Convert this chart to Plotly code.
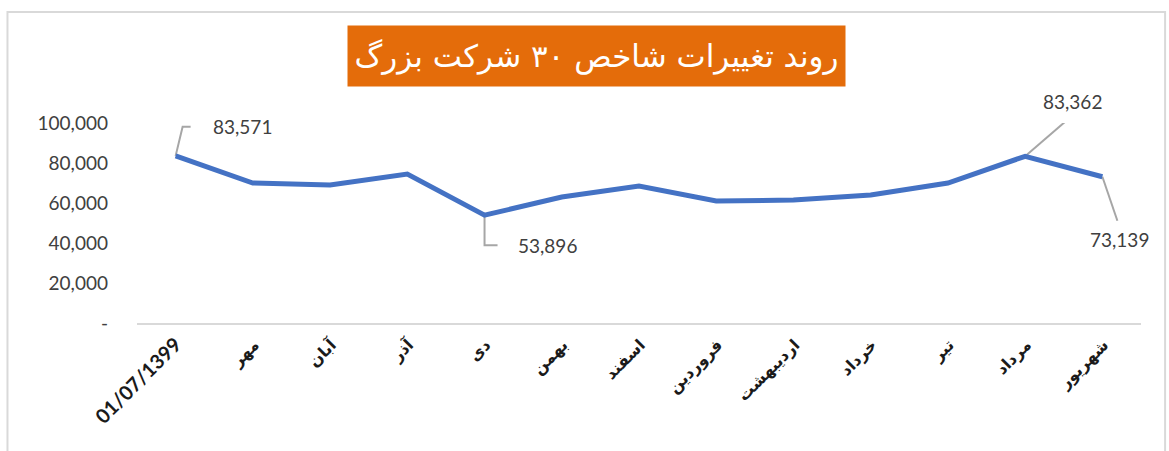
import plotly.graph_objects as go

categories = ["01/07/1399", "مهر", "آبان", "آذر", "دی", "بهمن", "اسفند",
              "فروردین", "اردیبهشت", "خرداد", "تیر", "مرداد", "شهریور"]
values = [83571, 70000, 69000, 74500, 53896, 63000, 68500,
          61000, 61500, 64000, 70000, 83362, 73139]
ytick_vals = [0, 20000, 40000, 60000, 80000, 100000]
ytick_text = ["-", "20,000", "40,000", "60,000", "80,000", "100,000"]
title_text = "روند تغییرات شاخص ۳۰ شرکت بزرگ"

# labelled points: index -> (xshift, yshift, leader path)
labelled = {
    0: (67, 29, "M 0 0 L 7 29 L 15 29"),
    4: (63, -30, "M 0 0 L 0 -30 L 13 -30"),
    11: (47, 55, "M 0 0 L 44 38"),
    12: (17, -63, "M 0 0 L 15 -44"),
}

def tick_label(c):
    if c[0].isdigit():
        return f"<b>{c}</b>"
    return f"<span style='font-family:DejaVu Sans;font-size:16px'><b>{c}</b></span>"

x_ticktext = [tick_label(c) for c in categories]

fig = go.Figure()
fig.add_trace(go.Scatter(
    x=categories, y=values, mode="lines",
    line=dict(color="#4472C4", width=5),
    cliponaxis=False, hoverinfo="skip"))

annotations = []
shapes = []
for i, (dx, dy, path) in labelled.items():
    annotations.append(dict(
        x=categories[i], y=values[i], xref="x", yref="y",
        text=f"{values[i]:,}", showarrow=False, xshift=dx, yshift=dy,
        font=dict(family="Lato, Open Sans, sans-serif", size=19, color="#404040")))
    shapes.append(dict(
        type="path", xref="x", yref="y", xsizemode="pixel", ysizemode="pixel",
        xanchor=categories[i], yanchor=values[i], path=path,
        line=dict(color="#A6A6A6", width=2), layer="below"))

annotations.append(dict(
    x=0.458, y=1.335, xref="paper", yref="paper", text=title_text,
    xanchor="center", yanchor="middle",
    showarrow=False, bgcolor="#E46C0A", width=495, height=58,
    font=dict(family="DejaVu Sans", size=31, color="white")))

# chart border
shapes.append(dict(type="rect", xref="paper", yref="paper",
                   x0=-0.129, x1=1.024, y0=-0.66, y1=1.555,
                   line=dict(color="#D9D9D9", width=2), layer="below"))

fig.update_layout(
    width=1169, height=451,
    margin=dict(l=137, r=28, t=123, b=128, autoexpand=False),
    paper_bgcolor="white", plot_bgcolor="white",
    showlegend=False,
    annotations=annotations, shapes=shapes,
    xaxis=dict(type="category", showgrid=False, zeroline=False,
               range=[-0.5, len(categories) - 0.5], automargin=False,
               tickvals=categories, ticktext=x_ticktext,
               showline=True, linecolor="#D9D9D9", linewidth=2,
               ticks="", tickangle=-45,
               tickfont=dict(family="Lato, Open Sans, sans-serif", size=20, color="#1a1a1a")),
    yaxis=dict(range=[0, 100000], showgrid=False, zeroline=False, automargin=False,
               showline=False, tickvals=ytick_vals, ticktext=ytick_text,
               ticks="", ticklabelstandoff=28,
               tickfont=dict(family="Lato, Open Sans, sans-serif", size=19, color="#404040")),
)

fig.write_html("out.html", config={"displayModeBar": False},
               post_script="document.body.style.margin='0';")
